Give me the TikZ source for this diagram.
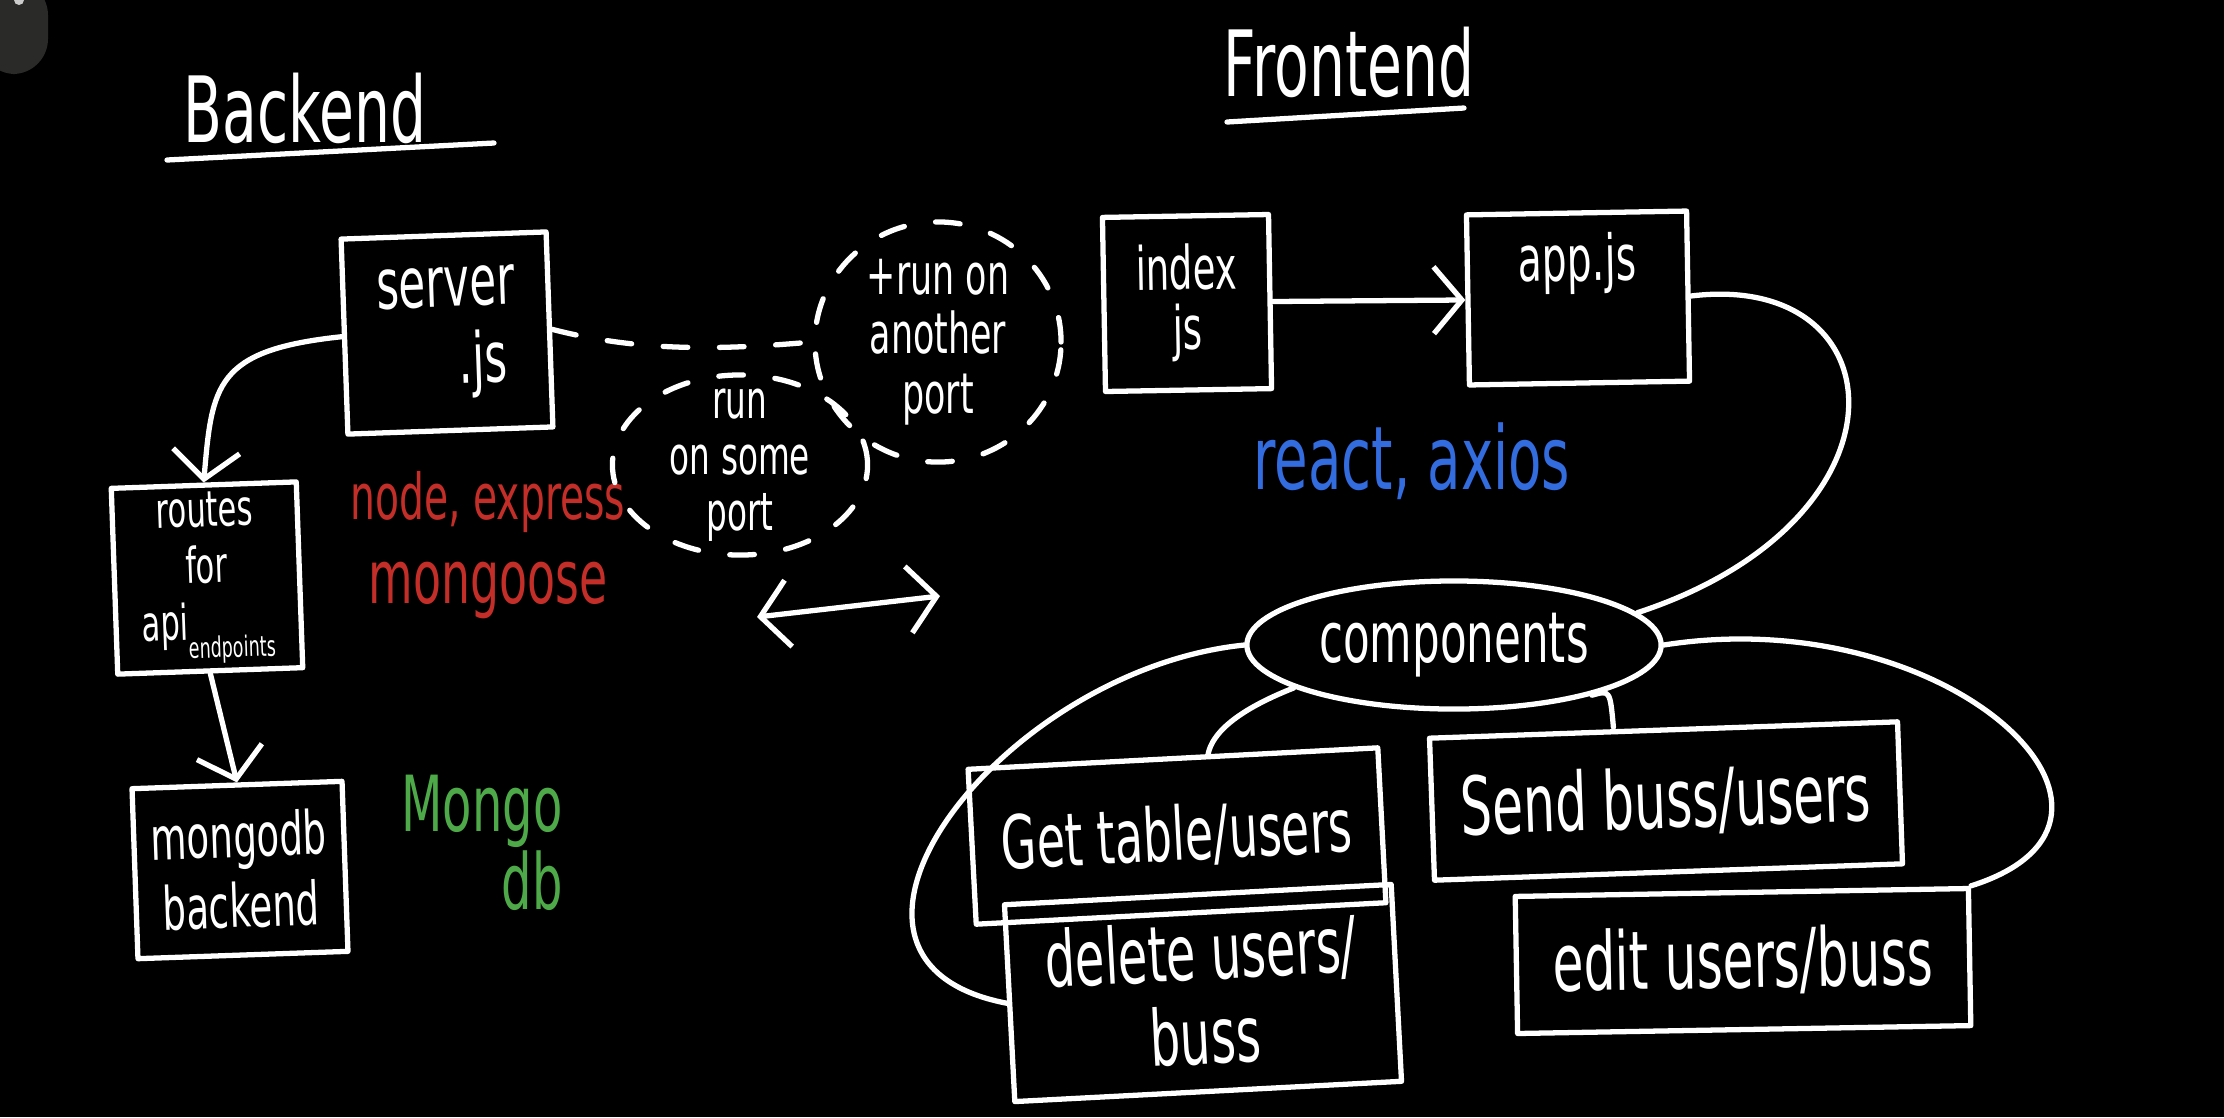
\documentclass[tikz,border=0pt]{standalone}
\usepackage{fontspec}
\setmainfont[FakeStretch=0.62]{DejaVu Sans}
\usetikzlibrary{arrows.meta,shapes.geometric,calc}
\definecolor{penred}{RGB}{196,46,40}
\definecolor{penblue}{RGB}{50,108,222}
\definecolor{pengreen}{RGB}{78,170,72}
\definecolor{tabgrey}{RGB}{42,42,40}
\newcommand{\penfont}[2]{\fontsize{#1}{#2}\selectfont}

\begin{document}
\begin{tikzpicture}[x=0.01cm,y=-0.01cm,
    every node/.style={text=white},
    pen/.style={draw=white,line width=1.5pt,line cap=round,line join=round},
    box/.style={pen,align=center,inner sep=2pt},
    cloud/.style={pen,ellipse,align=center,inner sep=-12pt,dash pattern=on 7pt off 9pt},
    >={Straight Barb[length=8pt,width=19pt]}]
    \useasboundingbox (0,0) rectangle (2224,1117);
    \fill[black] (0,0) rectangle (2224,1117);
    \fill[tabgrey,rounded corners=10pt] (-20,-20) rectangle (48,74);
    \fill[white!80!black] (19,0) circle (5);

    % titles
    \node[font=\penfont{26}{28}] (backend) at (305,108) {Backend};
    \draw[pen] (167,160) -- (494,143);
    \node[font=\penfont{26}{28}] (frontend) at (1349,62) {Frontend};
    \draw[pen] (1227,122) -- (1464,108);

    % backend side
    \node[box,minimum width=2.05cm,minimum height=1.95cm,rotate=2,font=\penfont{20}{22}]
        (server) at (447,333) {server\\\hspace{1em}.js};
    \node[box,minimum width=1.85cm,minimum height=1.75cm,rotate=2,font=\penfont{14}{16}]
        (routes) at (207,578) {routes\\for\\api\raisebox{-0.7ex}{\penfont{8}{8}endpoints}};
    \node[box,minimum width=2.1cm,minimum height=1.7cm,rotate=2,font=\penfont{17}{20}]
        (mongo) at (240,870) {mongodb\\backend};
    \node[text=penred,align=center,font=\penfont{18}{24}] (stack) at (488,545)
        {node, express\\{\penfont{21}{24}mongoose}};
    \node[text=pengreen,align=right,font=\penfont{22}{21}] (mongolabel) at (482,843) {Mongo\\db};

    \draw[pen,->] (server.west) .. controls (215,350) and (212,385) .. (routes.north);
    \draw[pen,->] (routes.south) -- (mongo.north);

    % ports
    \node[cloud,minimum width=2.55cm,minimum height=1.8cm,font=\penfont{15}{16}]
        (someport) at (740,465) {run\\on some\\port};
    \node[cloud,minimum width=2.46cm,minimum height=2.4cm,font=\penfont{16}{17}]
        (otherport) at (938,342) {+run on\\another\\port};
    \draw[pen,dash pattern=on 7pt off 9pt] (server.east) .. controls (640,352) and (720,350) .. (otherport.west);

    \coordinate (swapL) at (757,617);
    \coordinate (swapR) at (940,596);
    \draw[pen,<->] (swapL) -- (swapR);

    % frontend side
    \node[box,minimum width=1.66cm,minimum height=1.74cm,rotate=1,font=\penfont{17}{17}]
        (index) at (1187,303) {index\\js};
    \node[box,minimum width=2.2cm,minimum height=1.7cm,rotate=1,font=\penfont{18}{20}]
        (app) at (1578,298) {app.js\\[0.12cm]};
    \draw[pen,->] (index.east) -- (app.west);
    \node[text=penblue,font=\penfont{25}{27}] (libs) at (1412,461) {react, axios};

    \node[pen,ellipse,minimum width=4.14cm,minimum height=1.28cm,font=\penfont{20}{22}]
        (comp) at (1454,645) {components};
    \node[box,minimum width=4.1cm,minimum height=1.55cm,rotate=3,font=\penfont{21}{23}]
        (gettable) at (1177,836) {Get table/users};
    \node[box,minimum width=4.68cm,minimum height=1.42cm,rotate=2,font=\penfont{23}{25}]
        (sendbuss) at (1666,801) {Send buss/users};
    \node[box,minimum width=3.87cm,minimum height=1.97cm,rotate=3,font=\penfont{22}{24}]
        (deleteuser) at (1203,993) {delete users/\\buss};
    \node[box,minimum width=4.53cm,minimum height=1.37cm,rotate=1,font=\penfont{23}{25}]
        (edituser) at (1743,961) {edit users/buss};

    \draw[pen] (app.east) .. controls (1900,270) and (1920,520) .. (comp.10);
    \draw[pen] (comp.195) .. controls (1225,715) and (1210,740) .. ($(gettable.north)+(35,0)$);
    \draw[pen] (comp.340) .. controls (1610,690) .. ($(sendbuss.north)+(-50,0)$);
    \draw[pen] (comp.west) .. controls (1000,670) and (780,960) .. (deleteuser.west);
    \draw[pen] (comp.east) .. controls (1950,600) and (2180,820) .. (edituser.north east);
\end{tikzpicture}
\end{document}
